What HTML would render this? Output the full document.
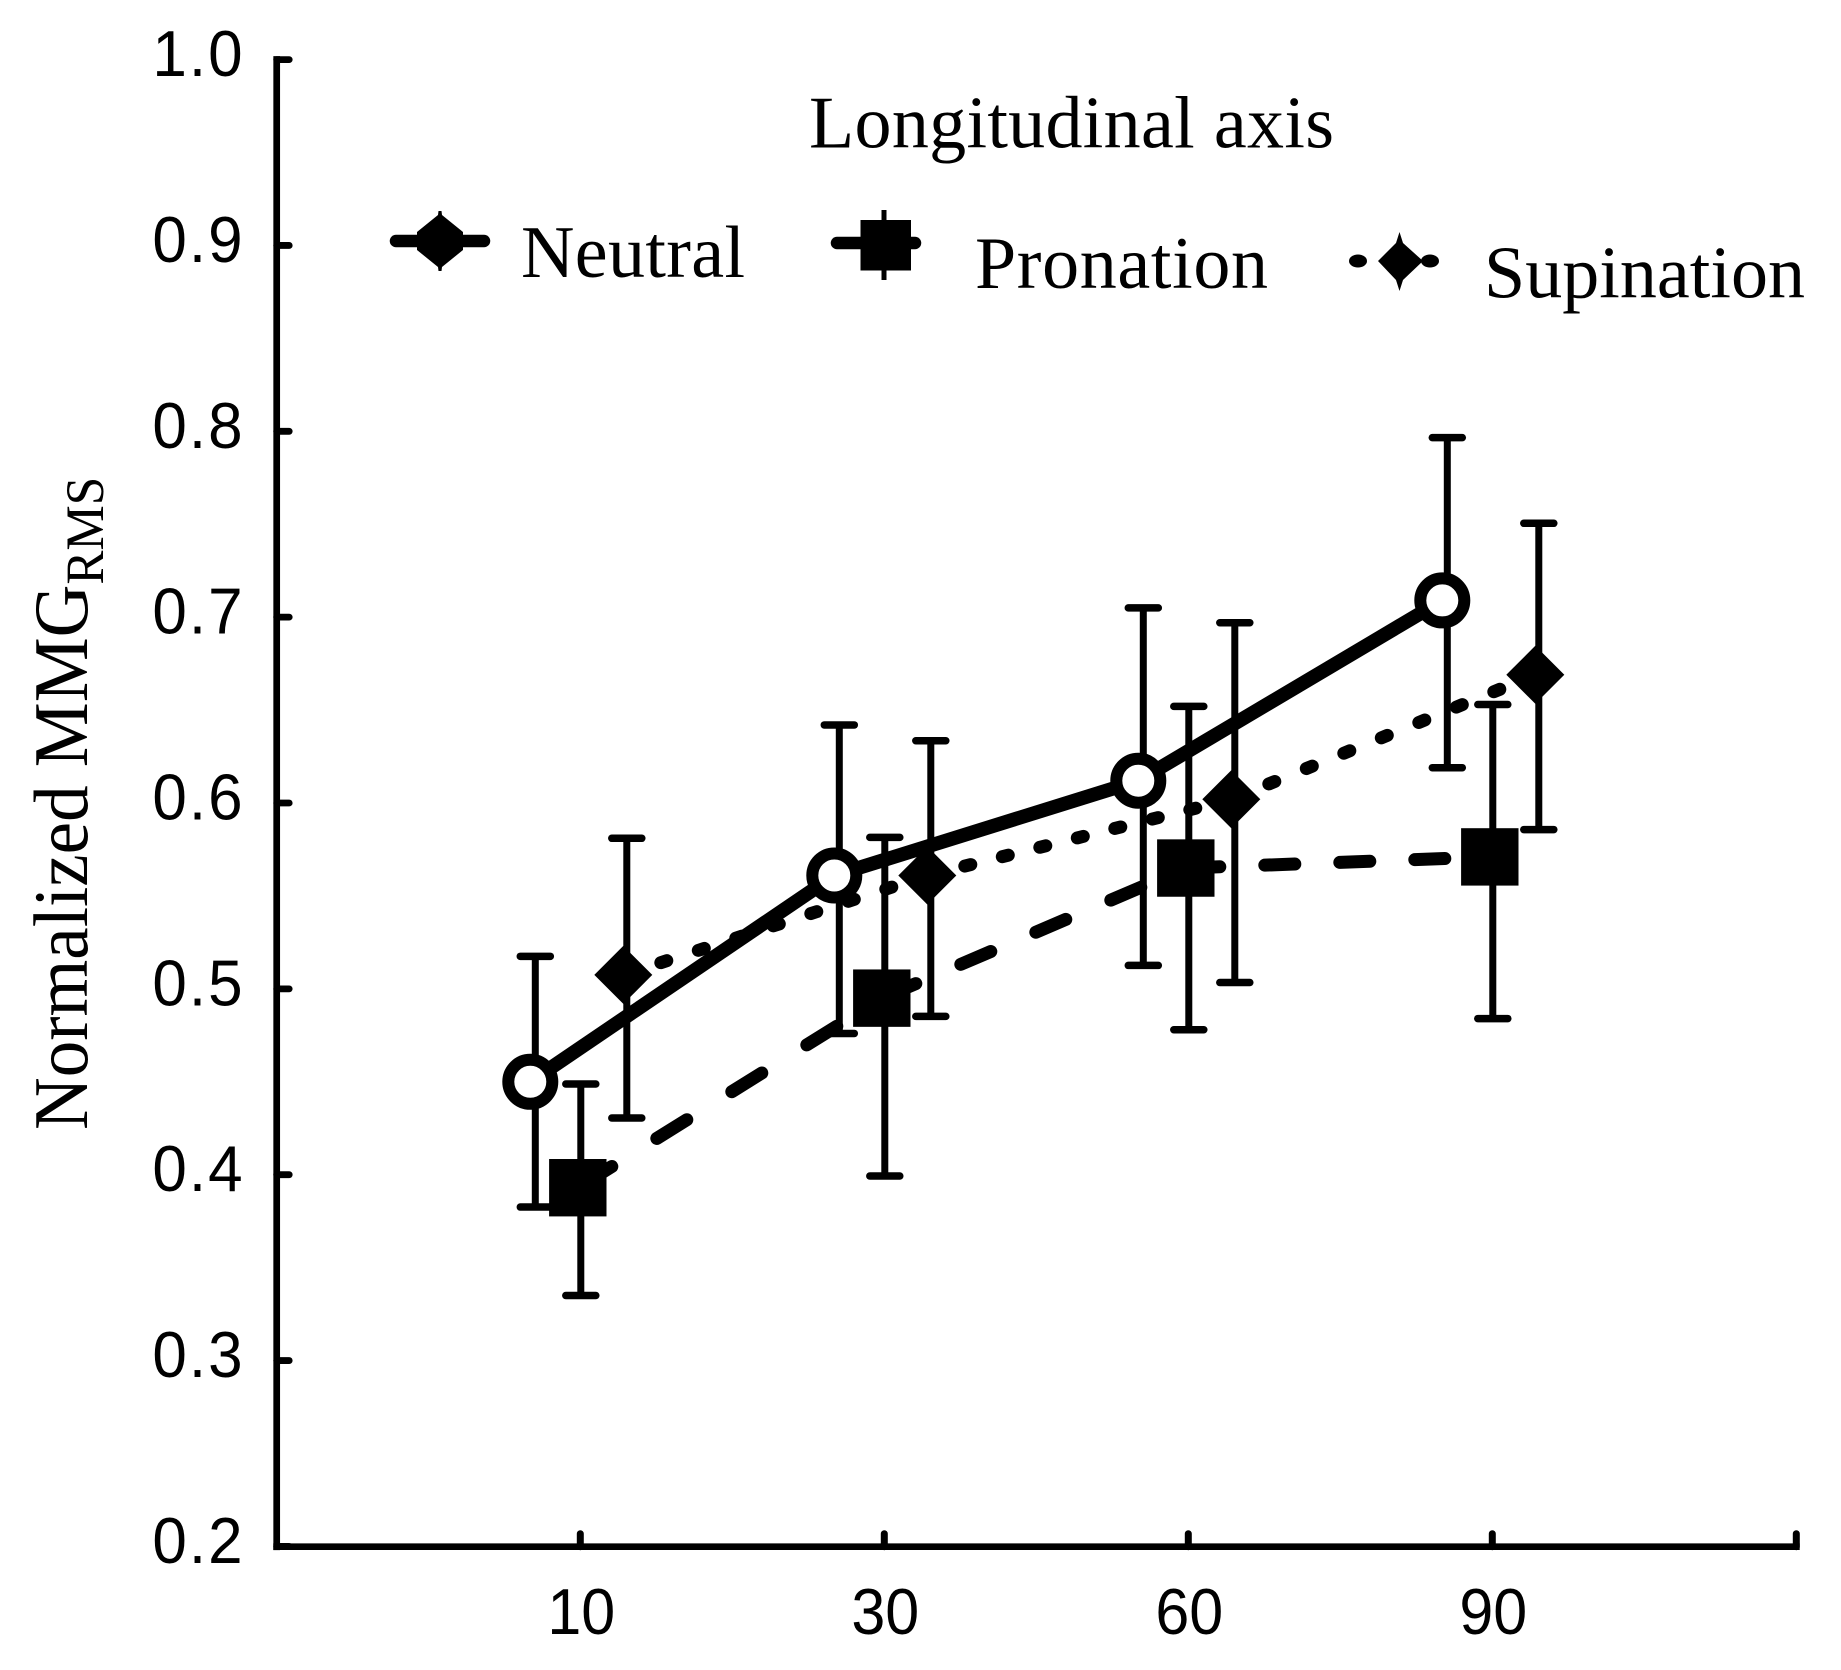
<!DOCTYPE html>
<html lang="en">
<head>
<meta charset="utf-8">
<title>Normalized MMG RMS by longitudinal axis</title>
<style>
html,body{margin:0;padding:0;background:#fff;}
svg{display:block;}
text{fill:#000;}
.sans{font-family:"Liberation Sans",Arial,sans-serif;font-size:62px;}
.serif{font-family:"Liberation Serif","Times New Roman",serif;font-size:74px;}
</style>
</head>
<body>
<svg id="chart" xmlns="http://www.w3.org/2000/svg" width="1841" height="1670" viewBox="0 0 1841 1670">
  <rect x="0" y="0" width="1841" height="1670" fill="#fff"/>
  <g id="marks"></g>
  <g id="axes"></g>

  <text class="serif" transform="translate(87,1130) rotate(-90) scale(1,1.06)" style="font-size:73px">Normalized MMG<tspan dy="15" style="font-size:51px">RMS</tspan></text>

  <text class="serif" x="809" y="147.5" textLength="525" lengthAdjust="spacing">Longitudinal axis</text>

  <g>
    <line x1="396" y1="241" x2="484" y2="241" stroke="#000" stroke-width="12.5" stroke-linecap="round"/>
    <polygon points="438.5,211 441.5,211 442,215 463,232 463,250 442,267 441.5,271 438.5,271 438,267 417,250 417,232 438,215" fill="#000"/>
    <text class="serif" x="521" y="277" textLength="224" lengthAdjust="spacing">Neutral</text>
  </g>
  <g>
    <line x1="837" y1="243" x2="915" y2="243" stroke="#000" stroke-width="12.5" stroke-linecap="round"/>
    <line x1="884" y1="210" x2="884" y2="280" stroke="#000" stroke-width="5"/>
    <rect x="860.5" y="220" width="50.5" height="50.5" fill="#000"/>
    <text class="serif" x="975" y="288" textLength="293" lengthAdjust="spacing">Pronation</text>
  </g>
  <g>
    <ellipse cx="1358" cy="261" rx="9" ry="6.5" fill="#000"/>
    <ellipse cx="1430" cy="261" rx="9" ry="6.5" fill="#000"/>
    <polygon points="1399.5,232 1403,243 1423,261 1403,280 1399.5,291 1396,280 1378,261 1396,243" fill="#000"/>
    <text class="serif" x="1484" y="297.5" textLength="321" lengthAdjust="spacing">Supination</text>
  </g>
</svg>

<script>
var categories = ['10', '30', '60', '90'];
var yTickLabels = ['0.2', '0.3', '0.4', '0.5', '0.6', '0.7', '0.8', '0.9', '1.0'];

var neutralValues = [0.450, 0.561, 0.612, 0.709];
var neutralUpper = [0.5175, 0.642, 0.705, 0.7966];
var neutralLower = [0.3826, 0.476, 0.5126, 0.619];

var pronationValues = [0.393, 0.495, 0.565, 0.571];
var pronationUpper = [0.4488, 0.5815, 0.652, 0.653];
var pronationLower = [0.335, 0.3993, 0.478, 0.484];

var supinationValues = [0.5075, 0.561, 0.602, 0.669];
var supinationUpper = [0.581, 0.6335, 0.697, 0.7505];
var supinationLower = [0.4305, 0.4852, 0.5034, 0.5857];

var NS = 'http://www.w3.org/2000/svg';
var marksLayer = document.getElementById('marks');
var axesLayer = document.getElementById('axes');

var yAxisX = 276.7;
var plotBottom = 1546.7;
function xScale(i) { return 276.3 + 304 * (i + 1); }
function yScale(v) { return 59.6 + (1 - v) * 1858.5; }

function mk(parent, tag, attrs, text) {
  var el = document.createElementNS(NS, tag);
  for (var k in attrs) { el.setAttribute(k, attrs[k]); }
  if (text !== undefined) { el.textContent = text; }
  parent.appendChild(el);
  return el;
}

/* axes */
var yLine = mk(axesLayer, 'line', {x1: yAxisX, x2: yAxisX, y1: yScale(1) - 3.5, y2: plotBottom + 3.4, stroke: '#000', 'stroke-width': 6.7});


var xLine = mk(axesLayer, 'line', {x1: yAxisX - 3.4, x2: xScale(4) + 3.4, y1: plotBottom, y2: plotBottom, stroke: '#000', 'stroke-width': 6.7});



yTickLabels.forEach(function (label) {
  var v = parseFloat(label);
  var tick = mk(axesLayer, 'line', {x1: yAxisX, x2: yAxisX + 12.5, y1: yScale(v), y2: yScale(v), stroke: '#000', 'stroke-width': 6.8, 'stroke-linecap': 'round'});
  
  
  var t = mk(axesLayer, 'text', {transform: 'translate(244.6,' + (yScale(v) + 16.5) + ') scale(1,1.05)', 'text-anchor': 'end', 'class': 'sans', 'letter-spacing': '2'}, label);
  
  
});

categories.forEach(function (label, i) {
  var tick = mk(axesLayer, 'line', {x1: xScale(i), x2: xScale(i), y1: plotBottom, y2: plotBottom - 13, stroke: '#000', 'stroke-width': 7, 'stroke-linecap': 'round'});
  
  
  var t = mk(axesLayer, 'text', {transform: 'translate(' + (xScale(i) + 1) + ',1634) scale(1,1.07)', 'text-anchor': 'middle', 'class': 'sans', style: 'font-size:61px'}, label);
  
  
});
var endTick = mk(axesLayer, 'line', {x1: xScale(4), x2: xScale(4), y1: plotBottom, y2: plotBottom - 13, stroke: '#000', 'stroke-width': 7, 'stroke-linecap': 'round'});



/* series */
function drawSeries(name, values, upper, lower, barOffset, markerOffset, dash, dashOffset, marker) {
  var group = mk(marksLayer, 'g', {});
  
  

  values.forEach(function (v, i) {
    var bx = xScale(i) + barOffset;
    var stem = mk(group, 'line', {x1: bx, x2: bx, y1: yScale(upper[i]), y2: yScale(lower[i]), stroke: '#000', 'stroke-width': 7});
    
    
    [upper[i], lower[i]].forEach(function (e, j) {
      var cap = mk(group, 'line', {x1: bx - 15, x2: bx + 15, y1: yScale(e), y2: yScale(e), stroke: '#000', 'stroke-width': 7.5, 'stroke-linecap': 'round'});
      
      
    });
  });

  for (var i = 0; i < values.length - 1; i++) {
    var x1 = xScale(i) + markerOffset, x2 = xScale(i + 1) + markerOffset;
    var attrs = {x1: x1, y1: yScale(values[i]), x2: x2, y2: yScale(values[i + 1]), stroke: '#000', 'stroke-width': dash ? 13 : 14};
    if (dash) {
      attrs.pathLength = x2 - x1;
      attrs['stroke-dasharray'] = dash;
      attrs['stroke-dashoffset'] = dashOffset;
      attrs['stroke-linecap'] = 'round';
    }
    var seg = mk(group, 'line', attrs);
    
    
  }

  values.forEach(function (v, i) {
    var cx = xScale(i) + markerOffset, cy = yScale(v), el;
    if (marker === 'circle') {
      el = mk(group, 'circle', {cx: cx, cy: cy, r: 22, fill: '#fff', stroke: '#000', 'stroke-width': 12});
    } else if (marker === 'square') {
      el = mk(group, 'rect', {x: cx - 28.7, y: cy - 28.7, width: 57.4, height: 57.4, fill: '#000'});
    } else {
      el = mk(group, 'polygon', {points: cx + ',' + (cy - 29) + ' ' + (cx + 29) + ',' + cy + ' ' + cx + ',' + (cy + 29) + ' ' + (cx - 29) + ',' + cy, fill: '#000'});
    }
    
    
  });
}

drawSeries('supination', supinationValues, supinationUpper, supinationLower, 46.5, 43, '6 31.5', 0, 'diamond');
drawSeries('pronation', pronationValues, pronationUpper, pronationLower, 0.5, -2.5, '30 45', -4, 'square');
drawSeries('neutral', neutralValues, neutralUpper, neutralLower, -45, -50, null, 0, 'circle');
</script>
</body>
</html>
